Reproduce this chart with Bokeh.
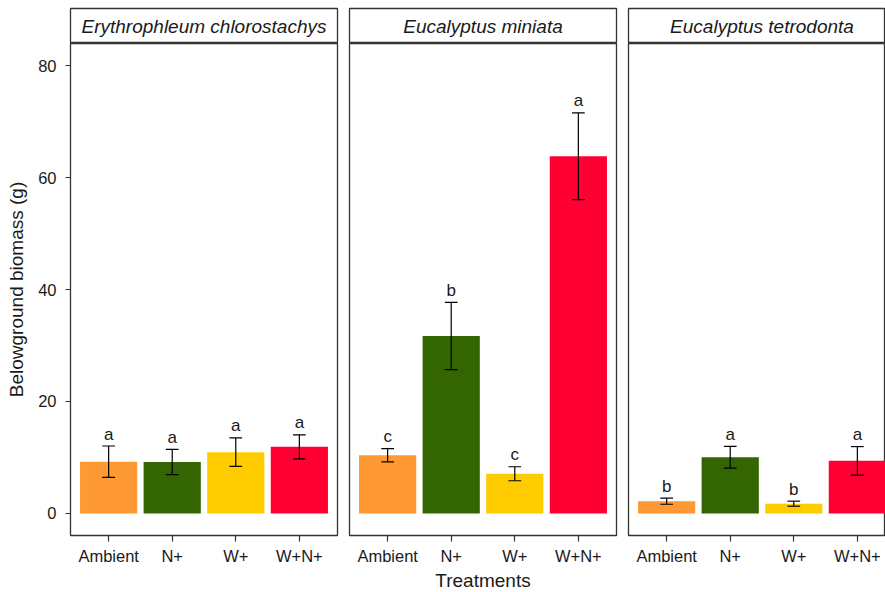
from bokeh.plotting import figure
from bokeh.models import Range1d, FixedTicker, ColumnDataSource
from bokeh.layouts import row, column
from bokeh.embed import file_html
from bokeh.resources import INLINE
from bokeh.core.properties import value

# ---------------- data ----------------
species = ["Erythrophleum chlorostachys", "Eucalyptus miniata", "Eucalyptus tetrodonta"]
treatments = ["Ambient", "N+", "W+", "W+N+"]
colors = ["#FF9933", "#336600", "#FFCC00", "#FF0033"]

means_chlorostachys = [9.25, 9.2, 10.95, 11.9]
se_chlorostachys = [2.8, 2.25, 2.55, 2.15]
letters_chlorostachys = ["a", "a", "a", "a"]

means_miniata = [10.4, 31.7, 7.1, 63.8]
se_miniata = [1.2, 6.0, 1.25, 7.75]
letters_miniata = ["c", "b", "c", "a"]

means_tetrodonta = [2.2, 10.05, 1.75, 9.4]
se_tetrodonta = [0.55, 1.95, 0.45, 2.55]
letters_tetrodonta = ["b", "a", "b", "a"]

y_ticks = [0, 20, 40, 60, 80]

# ---------------- style ----------------
FONT = "Liberation Sans"
TXT = "#1a1a1a"
BORDER = "#333333"
Y0, Y1 = -3.93, 83.93
FRAME_H = 492
FULL_W = 267
X0 = 0.4
X1 = 4.6


def make_strip(title, frame_w, x_end, left, right):
    s = figure(frame_width=frame_w, frame_height=35,
               x_range=Range1d(X0, x_end), y_range=Range1d(0, 1),
               min_border_left=left, min_border_right=right,
               min_border_top=8, min_border_bottom=0,
               x_axis_location=None, y_axis_location=None,
               output_backend="svg", toolbar_location=None)
    s.grid.visible = False
    s.outline_line_color = BORDER
    s.outline_line_width = 1.3
    s.background_fill_color = "white"
    s.border_fill_color = "white"
    s.text(x=[(X0 + X1) / 2], y=[0.5], text=[title], text_align="center",
           text_baseline="middle", text_font=value(FONT),
           text_font_style="italic", text_font_size="19px", text_color=TXT)
    return s


def make_panel(means, se, letters, frame_w, x_end, left, right, show_y, xlabel):
    p = figure(frame_width=frame_w, frame_height=FRAME_H,
               x_range=Range1d(X0, x_end), y_range=Range1d(Y0, Y1),
               min_border_left=left, min_border_right=right, min_border_top=0,
               y_axis_location="left" if show_y else None,
               output_backend="svg", toolbar_location=None)
    p.grid.visible = False
    p.outline_line_color = BORDER
    p.outline_line_width = 1.3
    p.background_fill_color = "white"
    p.border_fill_color = "white"

    xs = [k + 1 for k in range(len(treatments))]
    src = ColumnDataSource(dict(
        x=xs, top=means,
        lo=[m - s for m, s in zip(means, se)],
        hi=[m + s for m, s in zip(means, se)],
        x0=[x - 0.1 for x in xs], x1=[x + 0.1 for x in xs],
        color=colors, lab=letters))
    p.vbar(x="x", top="top", bottom=0, width=0.9, fill_color="color",
           line_color=None, source=src)
    p.segment(x0="x", y0="lo", x1="x", y1="hi", line_color="black",
              line_width=1.2, source=src)
    p.segment(x0="x0", y0="hi", x1="x1", y1="hi", line_color="black",
              line_width=1.2, source=src)
    p.segment(x0="x0", y0="lo", x1="x1", y1="lo", line_color="black",
              line_width=1.2, source=src)
    p.text(x="x", y="hi", text="lab", y_offset=-12, text_align="center",
           text_baseline="middle", text_font=value(FONT),
           text_font_size="17px", text_color=TXT, source=src)

    xa = p.xaxis[0]
    xa.ticker = FixedTicker(ticks=xs)
    xa.major_label_overrides = {x: t for x, t in zip(xs, treatments)}
    xa.axis_line_color = None
    xa.major_tick_in = 0
    xa.major_tick_out = 6
    xa.major_tick_line_color = BORDER
    xa.major_tick_line_width = 1.2
    xa.minor_tick_line_color = None
    xa.major_label_standoff = 5
    xa.major_label_text_font = FONT
    xa.major_label_text_font_size = "16.5px"
    xa.major_label_text_color = TXT
    if xlabel:
        xa.axis_label = xlabel
        xa.axis_label_text_font = FONT
        xa.axis_label_text_font_size = "19px"
        xa.axis_label_text_font_style = "normal"
        xa.axis_label_text_color = TXT
        xa.axis_label_standoff = 2

    if show_y:
        ya = p.yaxis[0]
        ya.ticker = FixedTicker(ticks=y_ticks)
        ya.axis_line_color = None
        ya.major_tick_in = 0
        ya.major_tick_out = 5
        ya.major_tick_line_color = BORDER
        ya.major_tick_line_width = 1.2
        ya.minor_tick_line_color = None
        ya.major_label_standoff = 9
        ya.major_label_text_font = FONT
        ya.major_label_text_font_size = "16.5px"
        ya.major_label_text_color = TXT
        ya.axis_label = "Belowground biomass (g)"
        ya.axis_label_text_font = FONT
        ya.axis_label_text_font_size = "19px"
        ya.axis_label_text_font_style = "normal"
        ya.axis_label_text_color = TXT
        ya.axis_label_standoff = 8
    return p


PX_PER_UNIT = FULL_W / (X1 - X0)
W3 = 257
X3_END = X0 + W3 / PX_PER_UNIT

s1 = make_strip(species[0], FULL_W, X1, 70, 6)
s2 = make_strip(species[1], FULL_W, X1, 6, 6)
s3 = make_strip(species[2], W3, X3_END, 6, 0)

p1 = make_panel(means_chlorostachys, se_chlorostachys, letters_chlorostachys,
                FULL_W, X1, 70, 6, True, None)
p2 = make_panel(means_miniata, se_miniata, letters_miniata,
                FULL_W, X1, 6, 6, False, "Treatments")
p3 = make_panel(means_tetrodonta, se_tetrodonta, letters_tetrodonta,
                W3, X3_END, 6, 0, False, None)

layout = column(row(s1, s2, s3), row(p1, p2, p3))

open("out.html", "w").write(file_html(layout, INLINE))
